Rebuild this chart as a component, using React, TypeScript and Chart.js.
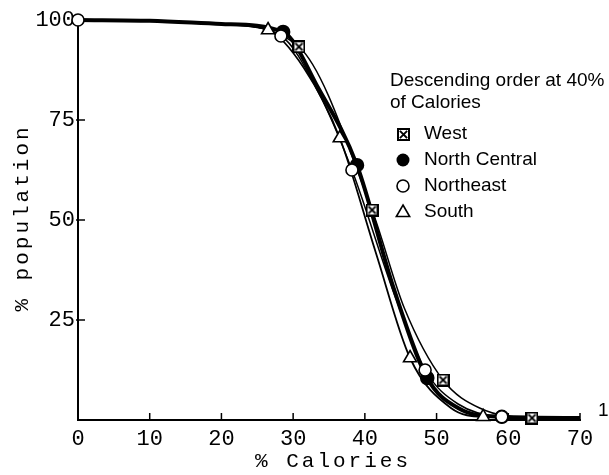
import React, { useEffect, useRef } from 'react';
import { Chart, registerables } from 'chart.js';
Chart.register(...registerables);

// ---- data ----
const xTickStep = 10;
const yTickStep = 25;
const xRange = [0, 70];
const yRange = [0, 100];

const seriesNames = ['West', 'North Central', 'Northeast', 'South'];

// marker points
const westMarkX = [30.8, 41.0, 50.9, 63.3];
const westMarkY = [93.3, 52.5, 10.0, 0.5];
const ncMarkX = [28.6, 38.9, 48.7, 59.1];
const ncMarkY = [97.0, 63.7, 10.5, 0.8];
const neMarkX = [0, 28.3, 38.2, 48.4, 59.1];
const neMarkY = [100, 96.0, 62.5, 12.5, 0.8];
const southMarkX = [26.5, 36.5, 46.3, 56.5];
const southMarkY = [97.5, 70.5, 15.5, 0.8];

// additional points along the drawn curves
const westCurveX = [0, 10, 20, 45.5, 56, 70];
const westCurveY = [100, 99.8, 99.0, 28.0, 3.0, 0.4];
const ncCurveX = [0, 10, 20, 33.5, 44, 53, 70];
const ncCurveY = [100, 99.8, 99.0, 83.0, 33.0, 3.0, 0.5];
const neCurveX = [10, 20, 33.5, 44, 53, 70];
const neCurveY = [99.8, 99.0, 82.0, 32.0, 4.0, 0.5];
const southCurveX = [0, 10, 20, 31.5, 41.5, 52, 70];
const southCurveY = [100, 99.8, 99.0, 88.0, 42.0, 3.0, 0.5];

const legendTitle = ['Descending order at 40%', 'of Calories'];
const xTitle = '% Calories';
const yTitle = '% population';
const cornerNote = '1';

function merge(ax: number[], ay: number[], bx: number[], by: number[]) {
  const pts = ax.map((x, i) => ({ x, y: ay[i] })).concat(bx.map((x, i) => ({ x, y: by[i] })));
  pts.sort((p, q) => p.x - q.x);
  const out: { x: number; y: number }[] = [];
  for (const p of pts) {
    if (out.length && Math.abs(out[out.length - 1].x - p.x) < 1e-9) continue;
    out.push(p);
  }
  return out;
}

function makeBoxX(size: number): HTMLCanvasElement {
  const c = document.createElement('canvas');
  c.width = size;
  c.height = size;
  const g = c.getContext('2d')!;
  g.fillStyle = '#fff';
  g.fillRect(0, 0, size, size);
  g.strokeStyle = '#000';
  g.lineWidth = 2;
  g.strokeRect(1, 1, size - 2, size - 2);
  g.lineWidth = 1.8;
  g.lineCap = 'square';
  g.beginPath();
  g.moveTo(3.5, 3.5);
  g.lineTo(size - 3.5, size - 3.5);
  g.moveTo(size - 3.5, 3.5);
  g.lineTo(3.5, size - 3.5);
  g.stroke();
  return c;
}

function drawMarker(ctx: CanvasRenderingContext2D, kind: number, x: number, y: number, box: HTMLCanvasElement) {
  ctx.save();
  ctx.lineWidth = 1.6;
  ctx.strokeStyle = '#000';
  if (kind === 0) {
    ctx.drawImage(box, Math.round(x - box.width / 2), Math.round(y - box.height / 2));
  } else if (kind === 1) {
    ctx.beginPath();
    ctx.arc(x, y, 6.5, 0, Math.PI * 2);
    ctx.fillStyle = '#000';
    ctx.fill();
  } else if (kind === 2) {
    ctx.beginPath();
    ctx.arc(x, y, 6, 0, Math.PI * 2);
    ctx.fillStyle = '#fff';
    ctx.fill();
    ctx.stroke();
  } else {
    const r = 7;
    ctx.beginPath();
    ctx.moveTo(x, y - r);
    ctx.lineTo(x + r * 0.95, y + r * 0.65);
    ctx.lineTo(x - r * 0.95, y + r * 0.65);
    ctx.closePath();
    ctx.fillStyle = '#fff';
    ctx.fill();
    ctx.stroke();
  }
  ctx.restore();
}

export default function App() {
  const ref = useRef<HTMLCanvasElement | null>(null);
  useEffect(() => {
    document.body.style.margin = '0';
    const canvas = ref.current!;
    const box = makeBoxX(13);

    const marks = [
      { x: westMarkX, y: westMarkY },
      { x: ncMarkX, y: ncMarkY },
      { x: neMarkX, y: neMarkY },
      { x: southMarkX, y: southMarkY },
    ];
    const curves = [
      { x: westCurveX, y: westCurveY, w: 1.5 },
      { x: ncCurveX, y: ncCurveY, w: 4 },
      { x: neCurveX, y: neCurveY, w: 1.5 },
      { x: southCurveX, y: southCurveY, w: 1.8 },
    ];
    const styles: any[] = [box, 'circle', 'circle', 'triangle'];
    const radii = [6.5, 6.5, 6, 7.5];
    const fills = ['#fff', '#000', '#fff', '#fff'];

    const datasets: any[] = [];
    seriesNames.forEach((name, i) => {
      datasets.push({
        label: name + ' curve',
        data: merge(curves[i].x, curves[i].y, marks[i].x, marks[i].y),
        borderColor: '#000',
        borderWidth: curves[i].w,
        pointRadius: 0,
        cubicInterpolationMode: 'monotone',
        fill: false,
        clip: false,
        order: 10,
      });
    });
    seriesNames.forEach((name, i) => {
      datasets.push({
        label: name,
        data: marks[i].x.map((x, j) => ({ x, y: marks[i].y[j] })),
        showLine: false,
        pointStyle: styles[i],
        pointRadius: radii[i],
        pointBackgroundColor: fills[i],
        pointBorderColor: '#000',
        pointBorderWidth: 1.6,
        clip: false,
        order: i === 1 ? 2 : 1,
      });
    });

    const decor = {
      id: 'decor',
      afterDraw(chart: any) {
        const ctx = chart.ctx as CanvasRenderingContext2D;
        const xs = chart.scales.x;
        const ys = chart.scales.y;
        const area = chart.chartArea;
        ctx.save();
        ctx.strokeStyle = '#000';
        ctx.lineWidth = 1.5;
        // inward ticks
        for (let v = xRange[0] + xTickStep; v <= xRange[1]; v += xTickStep) {
          const px = xs.getPixelForValue(v);
          ctx.beginPath();
          ctx.moveTo(px, area.bottom);
          ctx.lineTo(px, area.bottom - 7);
          ctx.stroke();
        }
        for (let v = yRange[0] + yTickStep; v < yRange[1]; v += yTickStep) {
          const py = ys.getPixelForValue(v);
          ctx.beginPath();
          ctx.moveTo(area.left - 2, py);
          ctx.lineTo(area.left + 7, py);
          ctx.stroke();
        }
        // axis titles
        ctx.fillStyle = '#000';
        ctx.font = '21px "Liberation Mono"';
        (ctx as any).letterSpacing = '3px';
        ctx.textAlign = 'center';
        ctx.textBaseline = 'middle';
        ctx.fillText(xTitle, (area.left + area.right) / 2 + 4, 461);
        ctx.save();
        ctx.translate(22, 218);
        ctx.rotate(-Math.PI / 2);
        ctx.fillText(yTitle, 0, 0);
        ctx.restore();
        (ctx as any).letterSpacing = '0px';
        // legend
        ctx.font = '19px "Liberation Sans"';
        ctx.textAlign = 'left';
        ctx.fillText(legendTitle[0], 390, 81);
        ctx.fillText(legendTitle[1], 390, 103);
        const rowY = [134, 160, 186, 212];
        seriesNames.forEach((name, i) => {
          drawMarker(ctx, i, 403, rowY[i], box);
          ctx.fillStyle = '#000';
          ctx.fillText(name, 424, rowY[i]);
        });
        ctx.fillText(cornerNote, 598, 411);
        ctx.restore();
      },
    };

    const chart = new Chart(canvas, {
      type: 'line',
      data: { datasets },
      options: {
        responsive: false,
        animation: false,
        devicePixelRatio: 1,
        layout: { padding: { top: 20, right: 29, left: 0, bottom: 0 } },
        plugins: { legend: { display: false }, tooltip: { enabled: false } },
        scales: {
          x: {
            type: 'linear',
            min: xRange[0],
            max: xRange[1],
            afterFit: (s: any) => { s.height = 55; },
            grid: { display: true, drawOnChartArea: false, drawTicks: false },
            border: { display: true, color: '#000', width: 2 },
            ticks: {
              stepSize: xTickStep,
              color: '#000',
              padding: 6,
              font: { family: 'Liberation Mono', size: 22 },
              maxRotation: 0,
            },
          },
          y: {
            type: 'linear',
            min: yRange[0],
            max: yRange[1],
            afterFit: (s: any) => { s.width = 78; },
            grid: { display: true, drawOnChartArea: false, drawTicks: false },
            border: { display: true, color: '#000', width: 2 },
            ticks: {
              stepSize: yTickStep,
              color: '#000',
              padding: 3,
              font: { family: 'Liberation Mono', size: 22 },
              callback: (v: any) => (v === 0 ? '' : String(v)),
            },
          },
        },
      },
      plugins: [decor],
    } as any);
    return () => chart.destroy();
  }, []);
  return <canvas ref={ref} width={609} height={475} />;
}
